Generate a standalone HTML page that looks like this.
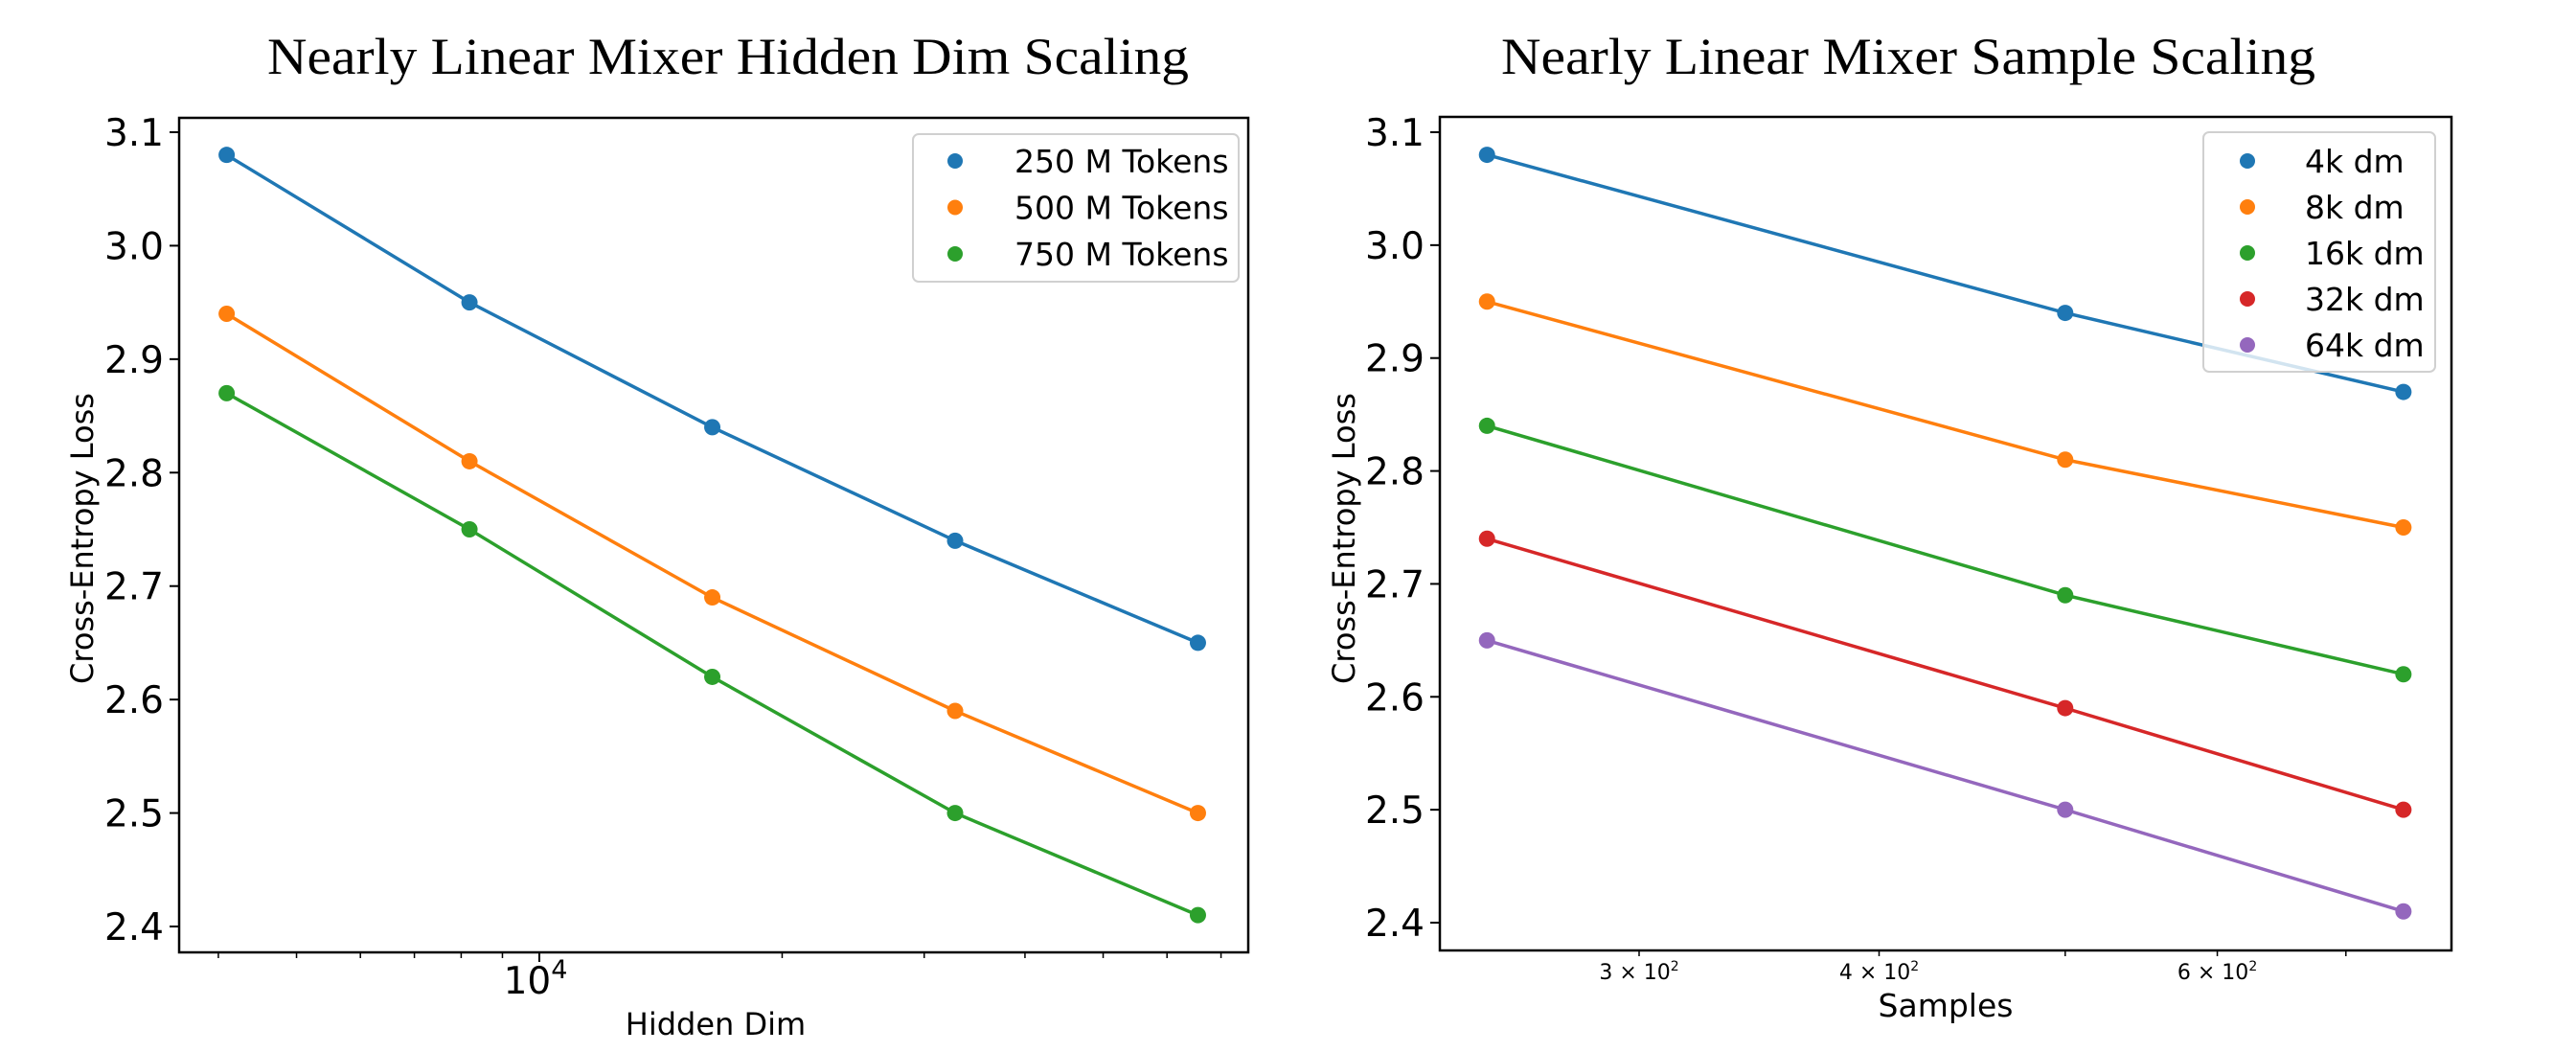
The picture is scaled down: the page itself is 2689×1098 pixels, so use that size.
<!DOCTYPE html>
<html><head><meta charset="utf-8"><style>
html,body{margin:0;padding:0;background:#fff;}
svg{display:block;}
text{font-family:"DejaVu Sans","Liberation Sans",sans-serif;fill:#000;}
.title{font-family:"Liberation Serif","DejaVu Serif",serif;font-size:54px;}
</style></head><body>
<svg id="fig" width="2689" height="1098" viewBox="0 0 2689 1098" xmlns="http://www.w3.org/2000/svg">
<text class="title" x="760" y="77" text-anchor="middle" textLength="962" lengthAdjust="spacingAndGlyphs">Nearly Linear Mixer Hidden Dim Scaling</text>
<text class="title" x="1992" y="77" text-anchor="middle" textLength="850" lengthAdjust="spacingAndGlyphs">Nearly Linear Mixer Sample Scaling</text>
<g id="left"></g>
<g id="right"></g>
</svg>
<script>
const colors = ['#1f77b4','#ff7f0e','#2ca02c','#d62728','#9467bd'];
const yTicks = [2.4,2.5,2.6,2.7,2.8,2.9,3.0,3.1];
const yTickLabels = ['2.4','2.5','2.6','2.7','2.8','2.9','3.0','3.1'];
// Left chart
const hiddenDims = [4096, 8192, 16384, 32768, 65536];
const leftSeriesNames = ['250 M Tokens','500 M Tokens','750 M Tokens'];
const loss250M = [3.08, 2.95, 2.84, 2.74, 2.65];
const loss500M = [2.94, 2.81, 2.69, 2.59, 2.50];
const loss750M = [2.87, 2.75, 2.62, 2.50, 2.41];
const leftMinorTicks = [4000,5000,6000,7000,8000,9000,20000,30000,40000,50000,60000,70000];
// Right chart
const samples = [250, 500, 750];
const rightSeriesNames = ['4k dm','8k dm','16k dm','32k dm','64k dm'];
const loss4k = [3.08, 2.94, 2.87];
const loss8k = [2.95, 2.81, 2.75];
const loss16k = [2.84, 2.69, 2.62];
const loss32k = [2.74, 2.59, 2.50];
const loss64k = [2.65, 2.50, 2.41];
const rightMajorTicks = [300, 400, 600];
const rightMajorLabels = ['3','4','6'];
const rightMinorTicks = [500, 700];

const NS='http://www.w3.org/2000/svg';
function mk(parent, tag, attrs, txt){
  const e=document.createElementNS(NS,tag);
  for(const k in attrs) e.setAttribute(k,attrs[k]);
  if(txt!==undefined) e.textContent=txt;
  parent.appendChild(e); return e;
}
function xLeft(v){ return 563 + Math.log10(v/10000)*842; }
function yLeft(v){ return 967 - (v-2.4)/0.7*829; }
function xRight(v){ return 1711 + Math.log10(v/300)*2005; }
function yRight(v){ return 963 - (v-2.4)/0.7*825; }

function drawChart(g, box, xf, yf, xs, series, names, legend){
  yTicks.forEach((t,i)=>{
    const y=yf(t);
    const tk=mk(g,'line',{x1:box.l-10,x2:box.l,y1:y,y2:y,stroke:'#000','stroke-width':2});
    
    
    const lb=mk(g,'text',{x:box.l-16,y:y+14,'text-anchor':'end','font-size':39},yTickLabels[i]);
    
    
  });
  series.forEach((vals,si)=>{
    const pts=vals.map((v,i)=>xf(xs[i]).toFixed(1)+','+yf(v).toFixed(1)).join(' ');
    const pl=mk(g,'polyline',{points:pts,fill:'none',stroke:colors[si],'stroke-width':3.5});
    
    
    vals.forEach((v,i)=>{
      const c=mk(g,'circle',{cx:xf(xs[i]),cy:yf(v),r:8.5,fill:colors[si]});
      
      
    });
  });
  const fr=mk(g,'rect',{x:box.l,y:box.t,width:box.r-box.l,height:box.b-box.t,fill:'none',stroke:'#000','stroke-width':2.5});
  
  
  const lg=mk(g,'g',{});
  
  
  mk(lg,'rect',{x:legend.x,y:legend.y,width:legend.w,height:legend.h,rx:6,fill:'rgba(255,255,255,0.8)',stroke:'#d0d0d0','stroke-width':2});
  names.forEach((n,i)=>{
    const yy=legend.y0+i*legend.dy;
    const m=mk(lg,'circle',{cx:legend.mx,cy:yy,r:8,fill:colors[i]});
    
    
    const t=mk(lg,'text',{x:legend.tx,y:yy+12,'font-size':legend.fs},n);
    
    
  });
}

const L=document.getElementById('left');
const boxL={l:187,r:1303,t:123,b:994};
drawChart(L,boxL,xLeft,yLeft,hiddenDims,[loss250M,loss500M,loss750M],leftSeriesNames,
  {x:953,y:140,w:340,h:154,mx:997,tx:1059,y0:168,dy:48.5,fs:33});
leftMinorTicks.forEach(v=>{
  const x=xLeft(v);
  const t=mk(L,'line',{x1:x,x2:x,y1:boxL.b,y2:boxL.b+6,stroke:'#000','stroke-width':1.5});
  
  
});
{
  const x=xLeft(10000);
  const t=mk(L,'line',{x1:x,x2:x,y1:boxL.b,y2:boxL.b+10,stroke:'#000','stroke-width':2});
  
  
  const lb=mk(L,'text',{x:x-4,y:1037,'text-anchor':'middle','font-size':39},'10');
  
  
  mk(lb,'tspan',{dy:-16,'font-size':27},'4');
}
const xlL=mk(L,'text',{x:747,y:1080,'text-anchor':'middle','font-size':32},'Hidden Dim');


const ylL=mk(L,'text',{x:0,y:0,'text-anchor':'middle','font-size':32,transform:'translate(97,562) rotate(-90)'},'Cross-Entropy Loss');



const R=document.getElementById('right');
const boxR={l:1503,r:2559,t:122,b:992};
drawChart(R,boxR,xRight,yRight,samples,[loss4k,loss8k,loss16k,loss32k,loss64k],rightSeriesNames,
  {x:2300,y:138,w:242,h:250,mx:2346,tx:2406,y0:168,dy:48,fs:33});
rightMajorTicks.forEach((v,i)=>{
  const x=xRight(v);
  const t=mk(R,'line',{x1:x,x2:x,y1:boxR.b,y2:boxR.b+6,stroke:'#000','stroke-width':1.5});
  
  
  const lb=mk(R,'text',{x:x,y:1022,'text-anchor':'middle','font-size':22},rightMajorLabels[i]+' × 10');
  
  
  mk(lb,'tspan',{dy:-9,'font-size':14},'2');
});
rightMinorTicks.forEach(v=>{
  const x=xRight(v);
  const t=mk(R,'line',{x1:x,x2:x,y1:boxR.b,y2:boxR.b+6,stroke:'#000','stroke-width':1.5});
  
  
});
const xlR=mk(R,'text',{x:2031,y:1061,'text-anchor':'middle','font-size':33},'Samples');


const ylR=mk(R,'text',{x:0,y:0,'text-anchor':'middle','font-size':32,transform:'translate(1414,562) rotate(-90)'},'Cross-Entropy Loss');


</script>
</body></html>
